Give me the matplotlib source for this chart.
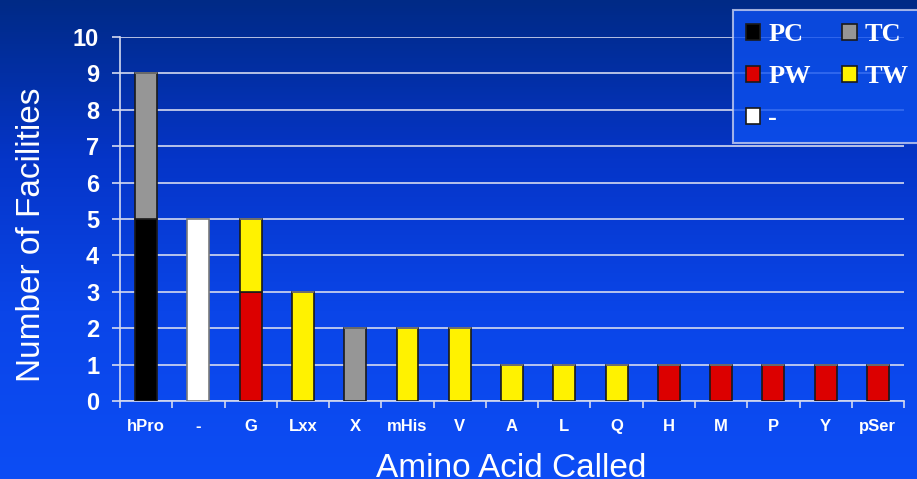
import matplotlib.pyplot as plt
from matplotlib.colors import LinearSegmentedColormap
from matplotlib.patches import Patch
import numpy as np

# Facilities per called amino acid, split by category
acids = ['hPro', '-', 'G', 'Lxx', 'X', 'mHis', 'V', 'A', 'L', 'Q', 'H', 'M', 'P', 'Y', 'pSer']
pc = [5, 0, 0, 0, 0, 0, 0, 0, 0, 0, 0, 0, 0, 0, 0]
tc = [4, 0, 0, 0, 2, 0, 0, 0, 0, 0, 0, 0, 0, 0, 0]
pw = [0, 0, 3, 0, 0, 0, 0, 0, 0, 0, 1, 1, 1, 1, 1]
tw = [0, 0, 2, 3, 0, 2, 2, 1, 1, 1, 0, 0, 0, 0, 0]
dash = [0, 5, 0, 0, 0, 0, 0, 0, 0, 0, 0, 0, 0, 0, 0]

series = [('PC', pc, '#000000'), ('TC', tc, '#969696'), ('PW', pw, '#DC0000'),
          ('TW', tw, '#FFF200'), ('-', dash, '#FFFFFF')]

fig = plt.figure(figsize=(9.17, 4.79), dpi=100)

# slide-style vertical blue gradient behind everything
bg = fig.add_axes([0, 0, 1, 1], zorder=-10)
grad = LinearSegmentedColormap.from_list(
    'slide', [(0.0, '#002A86'), (0.33, '#0535C8'), (0.65, '#0A45E8'), (1.0, '#0D4DF5')])
bg.imshow(np.linspace(0, 1, 256).reshape(-1, 1), aspect='auto', cmap=grad,
          extent=[0, 1, 1, 0])
bg.set_axis_off()

ax = fig.add_axes([0.1309, 0.1628, 0.855, 0.760])
ax.set_facecolor('none')

x = np.arange(len(acids))
bottom = np.zeros(len(acids))
for name, vals, color in series:
    vals = np.array(vals, dtype=float)
    edge = '#7A7A7A' if name == '-' else '#1A1A1A'
    ax.bar(x, vals, width=0.42, bottom=bottom, color=color, edgecolor=edge,
           linewidth=1.2, zorder=3)
    bottom += vals

ax.set_xlim(-0.5, len(acids) - 0.5)
ax.set_ylim(0, 10)
ax.set_yticks(range(11))
ax.grid(axis='y', color='#D4DAF0', linewidth=1.2, zorder=1)

for side in ['top', 'right']:
    ax.spines[side].set_visible(False)
for side in ['left', 'bottom']:
    ax.spines[side].set_color('#D4DAF0')
    ax.spines[side].set_linewidth(1.2)

ax.set_xticks(x)
ax.set_xticklabels(acids)
ax.set_xticks(np.arange(-0.5, len(acids)), minor=True)
ax.tick_params(axis='x', which='major', length=0, pad=13)
ax.tick_params(axis='x', which='minor', length=5, color='#D4DAF0', width=1.2)
ax.tick_params(axis='y', length=6, color='#D4DAF0', width=1.2, pad=9)
for lbl in ax.get_xticklabels():
    lbl.set(color='white', fontweight='bold', fontsize=12, family='Liberation Sans')
for lbl in ax.get_yticklabels():
    lbl.set(color='white', fontweight='bold', fontsize=17, family='Liberation Sans')

ax.set_ylabel('Number of Facilities', color='white', fontsize=24,
              family='Liberation Sans')
ax.yaxis.set_label_coords(-0.093, 0.456)
fig.text(0.558, 0.005, 'Amino Acid Called', color='white', fontsize=24,
         family='Liberation Sans', ha='center', va='baseline')

# legend: two columns, filled column-first
order = ['PC', 'PW', '-', 'TC', 'TW']
colors = {name: color for name, _, color in series}
handles = [Patch(facecolor=colors[n], edgecolor='#1A1A1A', linewidth=1.2, label=n)
           for n in order]
leg = fig.legend(handles=handles, loc='upper left', bbox_to_anchor=(0.799, 0.979),
                 ncol=2, frameon=True, fancybox=False, handlelength=0.55,
                 handleheight=0.55, handletextpad=0.3, columnspacing=1.2,
                 labelspacing=0.72, borderpad=0.5, borderaxespad=0,
                 prop={'family': 'Liberation Serif', 'weight': 'bold', 'size': 19})
leg.get_frame().set_facecolor('#0D50F0')
leg.get_frame().set_edgecolor('#C8D0F0')
leg.get_frame().set_linewidth(1.5)
for t in leg.get_texts():
    t.set_color('white')

fig.savefig('out.png', dpi=100)
